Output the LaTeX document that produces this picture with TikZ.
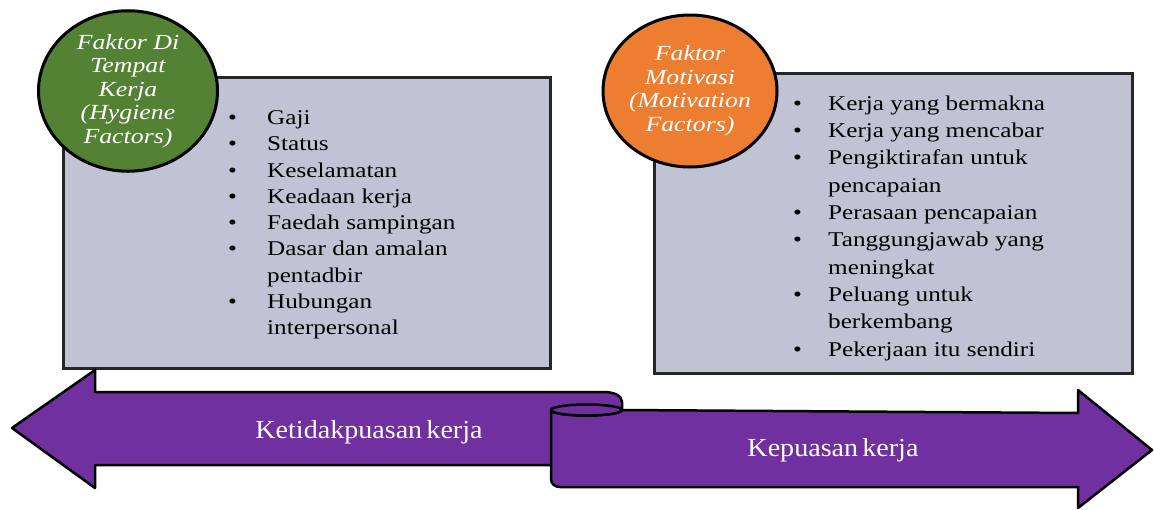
\documentclass[tikz,border=0pt]{standalone}
\usepackage{fontspec}
\setmainfont{Liberation Serif}[FakeStretch=1.2]
\newfontfamily\bandfont{Liberation Serif}[FakeStretch=1.08,WordSpace=0.6]
\usetikzlibrary{shapes.geometric}
\definecolor{boxgrey}{RGB}{191,195,212}
\definecolor{hyggreen}{RGB}{84,130,53}
\definecolor{motorange}{RGB}{237,125,49}
\definecolor{bandpurple}{RGB}{112,48,160}

\begin{document}
\begin{tikzpicture}[x=1pt,y=-1pt,
  factbox/.style={draw=black!85,line width=3pt,fill=boxgrey,inner sep=0pt},
  factcirc/.style={ellipse,draw=black,line width=3pt,inner sep=0pt,align=center,
    text=white,font=\fontsize{21.5}{23.5}\selectfont\itshape},
  listtext/.style={anchor=north west,inner sep=0pt,align=left},
  band/.style={fill=bandpurple,draw=black,line width=2.5pt,line join=round},
  bandtext/.style={text=white,font=\bandfont\fontsize{26}{30}\selectfont}]
  \useasboundingbox (0,0) rectangle (1154,509);
  \node[factbox,minimum width=487pt,minimum height=291pt] (hygbox) at (306.5,222.5) {};
  \node[factbox,minimum width=478pt,minimum height=300pt] (motbox) at (893,223) {};
  \node[factcirc,fill=hyggreen,minimum width=179pt,minimum height=155pt] (hygcirc) at (128,91)
    {Faktor Di\\Tempat\\Kerja\\(Hygiene\\Factors)};
  \node[factcirc,fill=motorange,minimum width=174pt,minimum height=152pt] (motcirc) at (690,91)
    {Faktor\\Motivasi\\(Motivation\\Factors)};
  \node[listtext,font=\fontsize{21}{26.25}\selectfont] (hyglist) at (228,106) {%
    \begin{tabular}{@{}p{39pt}@{}l@{}}
      \textbullet & Gaji\\
      \textbullet & Status\\
      \textbullet & Keselamatan\\
      \textbullet & Keadaan kerja\\
      \textbullet & Faedah sampingan\\
      \textbullet & Dasar dan amalan\\
                  & pentadbir\\
      \textbullet & Hubungan\\
                  & interpersonal
    \end{tabular}};
  \node[listtext,font=\fontsize{21}{27.3}\selectfont] (motlist) at (793,91) {%
    \begin{tabular}{@{}p{35pt}@{}l@{}}
      \textbullet & Kerja yang bermakna\\
      \textbullet & Kerja yang mencabar\\
      \textbullet & Pengiktirafan untuk\\
                  & pencapaian\\
      \textbullet & Perasaan pencapaian\\
      \textbullet & Tanggungjawab yang\\
                  & meningkat\\
      \textbullet & Peluang untuk\\
                  & berkembang\\
      \textbullet & Pekerjaan itu sendiri
    \end{tabular}};
  \draw[band] (95,392) -- (603,392) .. controls (615,392) and (622,396) .. (622,402)
    -- (622,465) -- (95,465) -- (95,488) -- (12,428) -- (95,370) -- cycle;
  \draw[band] (551,410) arc[start angle=180,end angle=0,x radius=35.5,y radius=5.5]
    -- (1078,413) -- (1078,390) -- (1152,450) -- (1078,508) -- (1078,487) -- (560,487)
    .. controls (555,487) and (551,484) .. (551,479) -- cycle;
  \draw[band] (586.5,410) ellipse [x radius=35.5,y radius=5.5];
  \node[bandtext] (dissat) at (369,432) {Ketidakpuasan kerja};
  \node[bandtext] (sat) at (833,450) {Kepuasan kerja};
\end{tikzpicture}
\end{document}
